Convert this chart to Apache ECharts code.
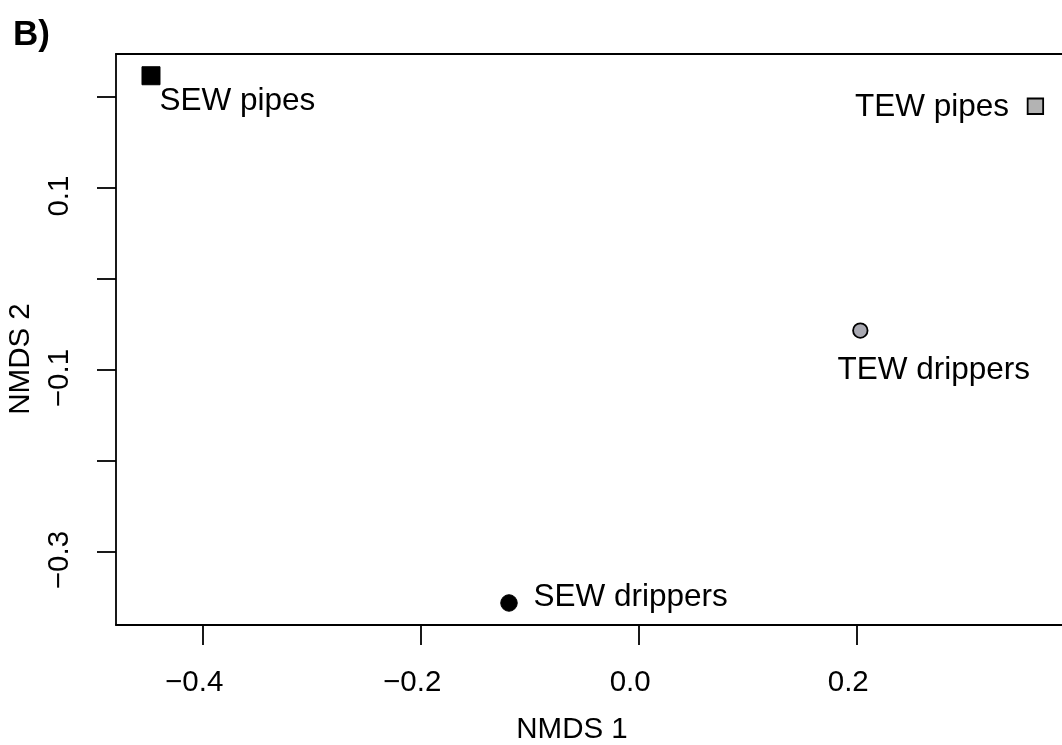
<!DOCTYPE html>
<html>
<head>
<meta charset="utf-8">
<script src="https://cdn.jsdelivr.net/npm/echarts@6/dist/echarts.min.js"></script>
<style>
  html, body { margin: 0; padding: 0; background: #ffffff; }
  #chart { width: 1062px; height: 745px; }
</style>
</head>
<body>
<div id="chart"></div>
<script>
// ---- data ----
const sampleNames = ['SEW pipes', 'TEW pipes', 'TEW drippers', 'SEW drippers'];
const nmds1 = [-0.4474, 0.3639, 0.2033, -0.1190];
const nmds2 = [0.2234, 0.1899, -0.0566, -0.3560];
const xTickValues = [-0.4, -0.2, 0.0, 0.2];
const yTickValues = [-0.3, -0.2, -0.1, 0.0, 0.1, 0.2];
const yLabelValues = [-0.3, -0.1, 0.1];
const xAxisTitle = 'NMDS 1';
const yAxisTitle = 'NMDS 2';
const panelTitle = 'B)';

// ---- styles (not data) ----
const FONT = "'Liberation Sans', Arial, Helvetica, sans-serif";
const FS = 29.5;
const PFS = 31.5;
const LW = 1.8;
const markerStyles = [
  { symbol: 'rect',   size: 18,   fill: '#000000', border: '#000000', bw: 1,   align: 'left',  off: [8.5, 25.7] },
  { symbol: 'rect',   size: 15.5, fill: '#b3b3b3', border: '#000000', bw: 1.8, align: 'right', off: [-26.3, 1.5] },
  { symbol: 'circle', size: 14.5, fill: '#a9a9b2', border: '#000000', bw: 1.8, align: 'left',  off: [-22.8, 39.5] },
  { symbol: 'circle', size: 16.5, fill: '#000000', border: '#000000', bw: 1,   align: 'left',  off: [24.5, -5.8] }
];

const xMin = -0.4795, xMax = 0.3883;
const yMin = -0.3802, yMax = 0.2473;

function fmt(v) {
  return v.toFixed(1).replace('-', '\u2212');
}

const seriesData = sampleNames.map((name, i) => {
  const s = markerStyles[i];
  return {
    name: name,
    value: [nmds1[i], nmds2[i]],
    symbol: s.symbol,
    symbolSize: s.size,
    itemStyle: { color: s.fill, borderColor: s.border, borderWidth: s.bw, opacity: 1 },
    label: {
      show: true,
      formatter: name,
      position: 'inside',
      align: s.align,
      verticalAlign: 'middle',
      offset: s.off,
      color: '#000000',
      fontFamily: FONT,
      fontSize: PFS,
      textBorderWidth: 0
    }
  };
});

const chart = echarts.init(document.getElementById('chart'), null, { renderer: 'canvas' });
chart.setOption({
  animation: false,
  backgroundColor: '#ffffff',
  grid: {
    left: 116, top: 54, right: 0, bottom: 120,
    show: false, containLabel: false
  },
  xAxis: [{
    type: 'value',
    position: 'bottom',
    min: xMin, max: xMax,
    axisLine: { show: true, onZero: false, lineStyle: { color: '#000000', width: LW } },
    splitLine: { show: false },
    axisTick: { show: true, inside: false, length: 20, customValues: xTickValues,
      lineStyle: { color: '#000000', width: LW } },
    axisLabel: { show: true, customValues: xTickValues, formatter: fmt, margin: 43,
      color: '#000000', fontFamily: FONT, fontSize: FS, padding: [0, 17, 0, 0] }
  }, {
    type: 'value',
    position: 'top',
    min: xMin, max: xMax,
    axisLine: { show: true, onZero: false, lineStyle: { color: '#000000', width: LW } },
    splitLine: { show: false },
    axisTick: { show: false },
    axisLabel: { show: false }
  }],
  yAxis: {
    type: 'value',
    min: yMin, max: yMax,
    axisLine: { show: true, onZero: false, lineStyle: { color: '#000000', width: LW } },
    splitLine: { show: false },
    axisTick: { show: true, inside: false, length: 19, customValues: yTickValues,
      lineStyle: { color: '#000000', width: LW } },
    axisLabel: { show: true, customValues: yLabelValues, formatter: fmt, margin: 41, rotate: 90,
      color: '#000000', fontFamily: FONT, fontSize: FS, padding: [0, 16, 0, 0] }
  },
  graphic: [
    { type: 'text', x: 572, y: 729.5,
      style: { text: xAxisTitle, font: FS + 'px ' + FONT, fill: '#000000', textAlign: 'center', textVerticalAlign: 'middle' } },
    { type: 'text', x: 21, y: 359, rotation: Math.PI / 2,
      style: { text: yAxisTitle, font: FS + 'px ' + FONT, fill: '#000000', textAlign: 'center', textVerticalAlign: 'middle' } },
    { type: 'text', x: 13, y: 35,
      style: { text: panelTitle, font: 'bold 35px ' + FONT, fill: '#000000', textAlign: 'left', textVerticalAlign: 'middle' } }
  ],
  series: [{
    type: 'scatter',
    xAxisIndex: 0,
    data: seriesData,
    emphasis: { disabled: true },
    silent: true,
    clip: false
  }]
});
</script>
</body>
</html>
